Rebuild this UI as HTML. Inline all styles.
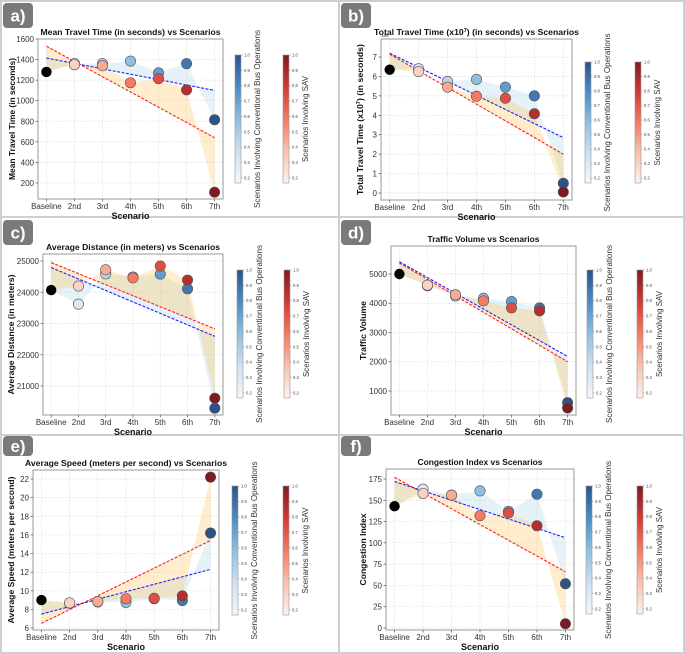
<!DOCTYPE html>
<html><head><meta charset="utf-8">
<style>
body{margin:0;background:#fff;}
svg{display:block;font-family:"Liberation Sans","DejaVu Sans",sans-serif;}
</style></head>
<body>
<svg id="fig" width="685" height="654" viewBox="0 0 685 654" xmlns="http://www.w3.org/2000/svg">
<defs>
<linearGradient id="gBlue" x1="0" y1="1" x2="0" y2="0">
<stop offset="0" stop-color="#f4f8fd"/><stop offset="0.25" stop-color="#cfe0f1"/><stop offset="0.5" stop-color="#8fbfe0"/><stop offset="0.75" stop-color="#4a8cc6"/><stop offset="1" stop-color="#2b5289"/></linearGradient>
<linearGradient id="gRed" x1="0" y1="1" x2="0" y2="0">
<stop offset="0" stop-color="#fdf2ee"/><stop offset="0.25" stop-color="#f9c2ad"/><stop offset="0.5" stop-color="#f47a62"/><stop offset="0.75" stop-color="#d23a33"/><stop offset="1" stop-color="#7d1a22"/></linearGradient>
</defs>
<rect x="1" y="1" width="683" height="652" fill="none" stroke="#cfcfcf" stroke-width="2"/>
<line x1="339" y1="0" x2="339" y2="654" stroke="#cfcfcf" stroke-width="2"/>
<line x1="0" y1="217" x2="685" y2="217" stroke="#cfcfcf" stroke-width="2"/>
<line x1="0" y1="435" x2="685" y2="435" stroke="#cfcfcf" stroke-width="2"/>
</svg>
<script>
const cats=['Baseline','2nd','3rd','4th','5th','6th','7th'];
// values include baseline as first element
const aBlue=[1280,1360,1360,1385,1270,1360,815];
const aRed=[1280,1350,1340,1175,1215,1105,110];
const aBlueTrend=[1415,1100];
const aRedTrend=[1530,640];
const aTicks=[200,400,600,800,1000,1200,1400,1600];
const bBlue=[6.35,6.4,5.75,5.85,5.45,5.0,0.5];
const bRed=[6.35,6.25,5.45,4.98,4.88,4.08,0.05];
const bBlueTrend=[7.2,2.85];
const bRedTrend=[7.15,2.0];
const bTicks=[0,1,2,3,4,5,6,7];
const cBlue=[24070,23620,24590,24490,24580,24110,20290];
const cRed=[24070,24200,24720,24460,24840,24390,20610];
const cBlueTrend=[24790,22590];
const cRedTrend=[24950,22830];
const cTicks=[21000,22000,23000,24000,25000];
const dBlue=[5000,4600,4250,4170,4060,3840,600];
const dRed=[5000,4620,4290,4080,3840,3740,420];
const dBlueTrend=[5420,2180];
const dRedTrend=[5380,2000];
const dTicks=[1000,2000,3000,4000,5000];
const eBlue=[9.0,8.65,8.8,8.75,9.15,8.95,16.2];
const eRed=[9.0,8.7,8.85,9.15,9.2,9.45,22.2];
const eBlueTrend=[7.5,12.3];
const eRedTrend=[6.5,15.4];
const eTicks=[6,8,10,12,14,16,18,20,22];
const fBlue=[143,163,156,161,137,157,52];
const fRed=[143,158,156,132,135,120,5];
const fBlueTrend=[172,106];
const fRedTrend=[177,66];
const fTicks=[0,25,50,75,100,125,150,175];
const cbTicks=[0.2,0.3,0.4,0.5,0.6,0.7,0.8,0.9,1.0];

const NS='http://www.w3.org/2000/svg';
const svg=document.getElementById('fig');
function mk(tag,attrs,parent,text){const e=document.createElementNS(NS,tag);for(const k in attrs)e.setAttribute(k,attrs[k]);if(text!==undefined)e.textContent=text;(parent||svg).appendChild(e);return e;}
function lerpC(stops,t){t=Math.max(0,Math.min(1,t));const n=stops.length-1;const i=Math.min(n-1,Math.floor(t*n));const f=t*n-i;const a=stops[i],b=stops[i+1];return 'rgb('+[0,1,2].map(k=>Math.round(a[k]+(b[k]-a[k])*f)).join(',')+')';}
const BL=[[244,248,253],[207,224,241],[143,191,224],[74,140,198],[43,82,137]];
const RD=[[253,242,238],[249,194,173],[244,122,98],[210,58,51],[125,26,34]];

const panels=[
 {k:'a',L:38,R:223,T:39,B:199,ymin:44,ymax:1600,ticks:aTicks,blue:aBlue,red:aRed,bt:aBlueTrend,rt:aRedTrend,title:'Mean Travel Time (in seconds) vs Scenarios',tw:180,ylab:'Mean Travel Time (in seconds)',ylw:122,ylx:12,cbx:235,cby:55,cbh:128,cbgap:48,badgeX:3,badgeY:3},
 {k:'b',L:381,R:572,T:39,B:200,ymin:-0.36,ymax:7.93,ticks:bTicks,blue:bBlue,red:bRed,bt:bBlueTrend,rt:bRedTrend,title:'Total Travel Time (x10',tw:205,sup:true,ylab:'Total Travel Time (x10',ylw:151,ylx:360,cbx:585,cby:62,cbh:121,cbgap:50,badgeX:341,badgeY:3,off:'1e6'},
 {k:'c',L:43,R:223,T:254,B:415,ymin:20072,ymax:25224,ticks:cTicks,blue:cBlue,red:cRed,bt:cBlueTrend,rt:cRedTrend,title:'Average Distance (in meters) vs Scenarios',tw:174,ylab:'Average Distance (in meters)',ylw:120,ylx:11,cbx:237,cby:270,cbh:128,cbgap:47,badgeX:3,badgeY:220},
 {k:'d',L:391,R:576,T:246,B:415,ymin:179,ymax:5957,ticks:dTicks,blue:dBlue,red:dRed,bt:dBlueTrend,rt:dRedTrend,title:'Traffic Volume vs Scenarios',tw:112,ylab:'Traffic Volume',ylw:59,ylx:363,cbx:587,cby:270,cbh:128,cbgap:50,badgeX:341,badgeY:220},
 {k:'e',L:33,R:219,T:470,B:630,ymin:5.79,ymax:22.97,ticks:eTicks,blue:eBlue,red:eRed,bt:eBlueTrend,rt:eRedTrend,title:'Average Speed (meters per second) vs Scenarios',tw:202,ylab:'Average Speed (meters per second)',ylw:147,ylx:11,cbx:232,cby:486,cbh:129,cbgap:51,badgeX:3,badgeY:436},
 {k:'f',L:386,R:574,T:469,B:630,ymin:-2.35,ymax:186.7,ticks:fTicks,blue:fBlue,red:fRed,bt:fBlueTrend,rt:fRedTrend,title:'Congestion Index vs Scenarios',tw:125,ylab:'Congestion Index',ylw:72,ylx:363,cbx:586,cby:486,cbh:128,cbgap:51,badgeX:341,badgeY:436}
];

panels.forEach(p=>{
 const g=mk('g',{});
 
 
 const bh=p.k==='e'||p.k==='f'?20:25;
 const bg=mk('g',{},g);
 
 
 mk('rect',{x:p.badgeX,y:p.badgeY,width:30,height:bh,rx:4,fill:'#7a7a7a'},bg);
 mk('text',{x:p.badgeX+15,y:p.badgeY+bh/2+6,'text-anchor':'middle','font-size':17,'font-weight':'bold',fill:'#fff'},bg,p.k+')');
 const xs=i=>p.L+(i+0.3)/6.6*(p.R-p.L);
 const ys=v=>p.B-(v-p.ymin)/(p.ymax-p.ymin)*(p.B-p.T);
 const grid=mk('g',{},g);
 
 
 cats.forEach((c,i)=>mk('line',{x1:xs(i),x2:xs(i),y1:p.T,y2:p.B,stroke:'#ddd','stroke-width':0.7,'stroke-dasharray':'1.5,1.5'},grid));
 p.ticks.forEach(t=>mk('line',{x1:p.L,x2:p.R,y1:ys(t),y2:ys(t),stroke:'#ddd','stroke-width':0.7,'stroke-dasharray':'1.5,1.5'},grid));
 const trend=(tr,i)=>tr[0]+(tr[1]-tr[0])*i/6;
 function fill(vals,tr,col,name){
  let pts=vals.map((v,i)=>xs(i)+','+ys(v));
  for(let i=6;i>=0;i--)pts.push(xs(i)+','+ys(trend(tr,i)));
  const pg=mk('polygon',{points:pts.join(' '),fill:col,'fill-opacity':0.3},g);
  
  
 }
 fill(p.blue,p.bt,'#a8d4e8','blue-fill-'+p.k);
 fill(p.red,p.rt,'#ffc25a','red-fill-'+p.k);
 function tl(tr,col,name){
  const l=mk('line',{x1:xs(0),y1:ys(tr[0]),x2:xs(6),y2:ys(tr[1]),stroke:col,'stroke-width':1.1,'stroke-dasharray':'3,1.5'},g);
  
  
 }
 tl(p.rt,'#ff2020','red-trend-'+p.k);
 tl(p.bt,'#2020ff','blue-trend-'+p.k);
 const fr=mk('rect',{x:p.L,y:p.T,width:p.R-p.L,height:p.B-p.T,fill:'none',stroke:'#999','stroke-width':1},g);
 
 
 cats.forEach((c,i)=>{
  mk('line',{x1:xs(i),x2:xs(i),y1:p.B,y2:p.B+2.5,stroke:'#555','stroke-width':0.7},g);
  const t=mk('text',{x:xs(i),y:p.B+10,'text-anchor':'middle','font-size':8,fill:'#333'},g,c);
  
  
 });
 p.ticks.forEach(v=>{
  mk('line',{x1:p.L-2.5,x2:p.L,y1:ys(v),y2:ys(v),stroke:'#555','stroke-width':0.7},g);
  const t=mk('text',{x:p.L-4,y:ys(v)+3,'text-anchor':'end','font-size':8,fill:'#333'},g,String(v));
  
  
 });
 if(p.off){const o=mk('text',{x:p.L,y:p.T-2,'font-size':4.5,fill:'#333'},g,p.off);}
 function pts(vals,stops,name){
  vals.forEach((v,i)=>{if(i===0)return;
   const c=mk('circle',{cx:xs(i),cy:ys(v),r:5.2,fill:lerpC(stops,i/6),stroke:'#555','stroke-width':0.6},g);
   
   
  });
 }
 pts(p.blue,BL,'bus-point');
 pts(p.red,RD,'sav-point');
 const bp=mk('circle',{cx:xs(0),cy:ys(p.blue[0]),r:5.2,fill:'#000'},g);
 
 
 const cx=(p.L+p.R)/2;
 const tt=mk('text',{x:cx,y:p.T-4,'text-anchor':'middle','font-size':8.5,'font-weight':'bold',fill:'#111',textLength:p.tw,lengthAdjust:'spacingAndGlyphs'},g);
 
 
 if(p.sup){tt.appendChild(document.createTextNode('Total Travel Time (x10'));mk('tspan',{dy:-3,'font-size':5.5},tt,'7');mk('tspan',{dy:3},tt,') (in seconds) vs Scenarios');}
 else tt.textContent=p.title;
 const xl=mk('text',{x:cx,y:p.B+20,'text-anchor':'middle','font-size':9,'font-weight':'bold',fill:'#111'},g,'Scenario');
 
 
 const cy=(p.T+p.B)/2;
 const yl=mk('text',{x:0,y:0,transform:'translate('+(p.ylx+3)+','+cy+') rotate(-90)','text-anchor':'middle','font-size':8.5,'font-weight':'bold',fill:'#111',textLength:p.ylw,lengthAdjust:'spacingAndGlyphs'},g);
 
 
 if(p.sup){yl.appendChild(document.createTextNode('Total Travel Time (x10'));mk('tspan',{dy:-3,'font-size':5.5},yl,'7');mk('tspan',{dy:3},yl,') (in seconds)');}
 else yl.textContent=p.ylab;
 [['url(#gBlue)','Scenarios Involving Conventional Bus Operations',178,'bus-colorbar'],['url(#gRed)','Scenarios Involving SAV',86,'sav-colorbar']].forEach((cb,j)=>{
  const x=p.cbx+j*p.cbgap, y0=p.cby, h=p.cbh;
  const cg=mk('g',{},g);
  
  
  mk('rect',{x:x,y:y0,width:6,height:h,fill:cb[0],stroke:'#999','stroke-width':0.6},cg);
  cbTicks.forEach(v=>{
   const yy=y0+h-(v-1/6)/(5/6)*h;
   mk('line',{x1:x+6,x2:x+7.5,y1:yy,y2:yy,stroke:'#666','stroke-width':0.4},cg);
   mk('text',{x:x+9,y:yy+1.5,'font-size':4.2,fill:'#444'},cg,v.toFixed(1));
  });
  const lt=mk('text',{x:0,y:0,transform:'translate('+(x+25)+','+(y0+h/2)+') rotate(-90)','text-anchor':'middle','font-size':8,fill:'#333',textLength:cb[2],lengthAdjust:'spacingAndGlyphs'},cg,cb[1]);
  
  
 });
});
</script>
</body></html>
